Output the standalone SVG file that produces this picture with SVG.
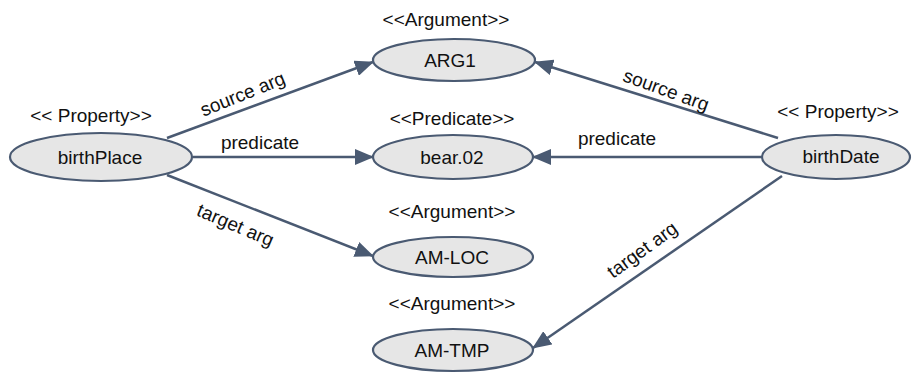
<svg xmlns="http://www.w3.org/2000/svg" width="913" height="373" viewBox="0 0 913 373">
<style>
.node ellipse{fill:#e6e6e6;stroke:#4a5a72;stroke-width:2.2}
text{font-family:"Liberation Sans",Arial,sans-serif;font-size:19px;fill:#111;text-anchor:middle}
.edge line{stroke:#4a5a72;stroke-width:2.5;marker-end:url(#arr)}
</style>
<defs>
<marker id="arr" markerUnits="userSpaceOnUse" markerWidth="20" markerHeight="16" refX="18" refY="8" orient="auto">
<path d="M0,0 L19,8 L0,16 z" fill="#4a5a72"/>
</marker>
</defs>
<g id="connectors" class="edge">
<line x1="167" y1="138" x2="373" y2="62"/>
<line x1="193" y1="157" x2="373" y2="157"/>
<line x1="167" y1="175" x2="373" y2="256"/>
<line x1="778" y1="138" x2="535" y2="62"/>
<line x1="763" y1="157" x2="533" y2="157"/>
<line x1="782" y1="176" x2="533" y2="348"/>
<text transform="translate(245,100) rotate(-22)">source arg</text>
<text x="260" y="149">predicate</text>
<text transform="translate(233,231) rotate(23)">target arg</text>
<text transform="translate(664,96) rotate(20)">source arg</text>
<text x="617" y="145">predicate</text>
<text transform="translate(646,255) rotate(-36)">target arg</text>
</g>
<g id="birthPlace" class="node">
<text x="91" y="122">&lt;&lt; Property&gt;&gt;</text>
<ellipse cx="101" cy="157" rx="91" ry="24"/>
<text x="100" y="164">birthPlace</text>
</g>
<g id="ARG1" class="node">
<text x="446" y="26">&lt;&lt;Argument&gt;&gt;</text>
<ellipse cx="454" cy="60" rx="81" ry="21"/>
<text x="450" y="67">ARG1</text>
</g>
<g id="bear02" class="node">
<text x="452" y="125">&lt;&lt;Predicate&gt;&gt;</text>
<ellipse cx="453" cy="157" rx="80" ry="22"/>
<text x="452" y="164">bear.02</text>
</g>
<g id="AMLOC" class="node">
<text x="452" y="218">&lt;&lt;Argument&gt;&gt;</text>
<ellipse cx="453" cy="257" rx="80" ry="20"/>
<text x="452" y="264">AM-LOC</text>
</g>
<g id="AMTMP" class="node">
<text x="452" y="310">&lt;&lt;Argument&gt;&gt;</text>
<ellipse cx="453" cy="350" rx="80" ry="21"/>
<text x="452" y="357">AM-TMP</text>
</g>
<g id="birthDate" class="node">
<text x="838" y="118">&lt;&lt; Property&gt;&gt;</text>
<ellipse cx="836" cy="157" rx="74" ry="22"/>
<text x="841" y="163">birthDate</text>
</g>
</svg>
